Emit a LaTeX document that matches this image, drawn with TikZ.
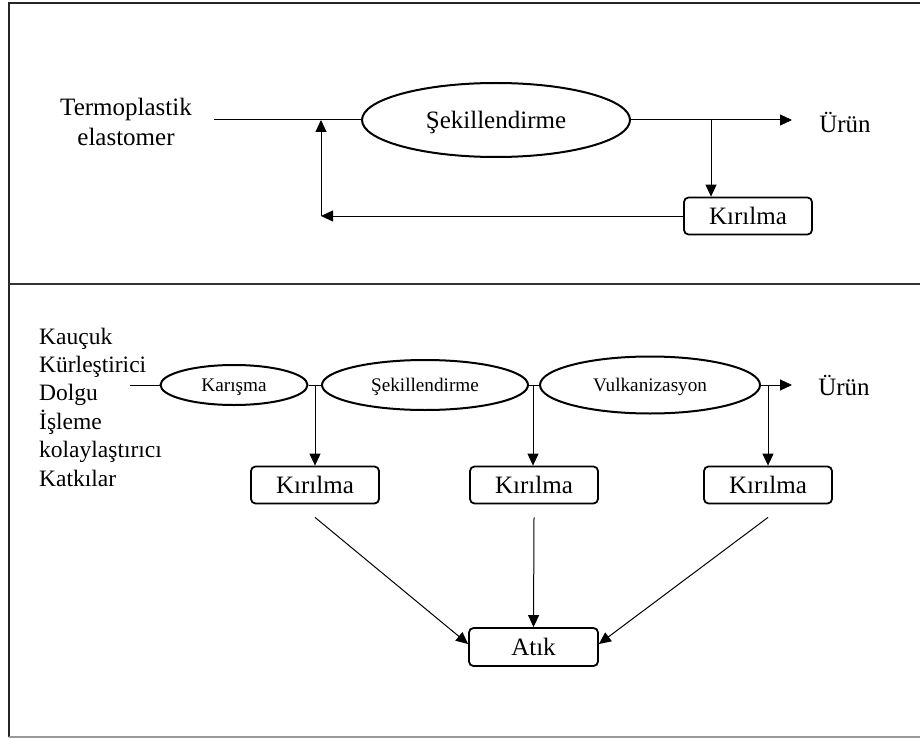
\documentclass[tikz,border=0pt]{standalone}
\usepackage{fontspec}
\setmainfont{Liberation Serif}
\usetikzlibrary{arrows.meta,shapes.geometric}
\begin{document}
\begin{tikzpicture}[x=1pt,y=-1pt,
  arr/.style={line width=1pt,-{Triangle[length=12pt,width=11pt]}},
  conn/.style={line width=1pt},
  ell/.style={draw,ellipse,line width=2pt,inner sep=0pt,text depth=0pt},
  kbox/.style={draw,rounded corners=4.5pt,line width=1.8pt,minimum width=128pt,minimum height=37pt,inner sep=0pt,font=\fontsize{25}{30}\selectfont},
  bigtxt/.style={font=\fontsize{25}{30}\selectfont,inner sep=0pt},
  smalltxt/.style={font=\fontsize{19.2}{23}\selectfont}
]
\useasboundingbox (0,0) rectangle (920,738);
% frame
\draw[line width=2.5pt,black!85] (9,737) -- (9,3) -- (920,3);
\draw[line width=1.8pt,black!80] (9,284) -- (920,284);
\draw[line width=1.8pt,black!40] (9,737) -- (920,737);

% ---------- top panel ----------
\node[bigtxt,align=center] (tpe) at (126,122) {Termoplastik\\elastomer};
\node[ell,minimum width=268pt,minimum height=74pt,bigtxt] (sek1) at (496,120) {Şekillendirme};
\node[bigtxt] (urun1) at (845,122) {Ürün};
\node[kbox] (kir0) at (748,216) {Kırılma};
\coordinate (in1) at (214,120);
\coordinate (j0) at (321,120);
\coordinate (b0) at (711,120);
\coordinate (o1) at (792,120);
\coordinate (f0) at (321,216);
\draw[conn] (in1) -- (sek1.west);
\draw[arr] (sek1.east) -- (o1);
\draw[arr] (b0) -- (b0 |- kir0.north);
\draw[arr] (kir0.west) -- (f0);
\draw[arr] (f0) -- (j0);

% ---------- bottom panel ----------
\node[anchor=west,align=left,inner sep=0pt,font=\fontsize{23.5}{28.4}\selectfont] (list) at (39,407)
  {Kauçuk\\Kürleştirici\\Dolgu\\İşleme\\kolaylaştırıcı\\Katkılar};
\node[ell,minimum width=147pt,minimum height=40pt,smalltxt] (kar) at (234,385) {Karışma};
\node[ell,minimum width=206pt,minimum height=50pt,smalltxt] (sek2) at (425,385) {Şekillendirme};
\node[ell,minimum width=220pt,minimum height=57pt,smalltxt] (vul) at (650,385) {Vulkanizasyon};
\node[bigtxt] (urun2) at (844,385) {Ürün};
\node[kbox] (kir1) at (315,485) {Kırılma};
\node[kbox] (kir2) at (534,485) {Kırılma};
\node[kbox] (kir3) at (768,485) {Kırılma};
\node[kbox,minimum width=129pt,minimum height=38pt] (atik) at (533.5,647) {Atık};

\coordinate (in2) at (130,385);
\coordinate (j1) at (315,385);
\coordinate (j2) at (533,385);
\coordinate (j3) at (768,385);
\coordinate (o2) at (792,385);
\draw[conn] (in2) -- (kar.west);
\draw[conn] (kar.east) -- (sek2.west);
\draw[conn] (sek2.east) -- (vul.west);
\draw[arr] (vul.east) -- (o2);
\draw[arr] (j1) -- (j1 |- kir1.north);
\draw[arr] (j2) -- (j2 |- kir2.north);
\draw[arr] (j3) -- (j3 |- kir3.north);

\draw[arr] ([yshift=-13pt]kir1.south) -- ([yshift=3pt]atik.west);
\draw[arr] ([yshift=-13pt]kir2.south) -- (atik.north);
\draw[arr] ([yshift=-13pt]kir3.south) -- ([yshift=3pt]atik.east);
\end{tikzpicture}
\end{document}
